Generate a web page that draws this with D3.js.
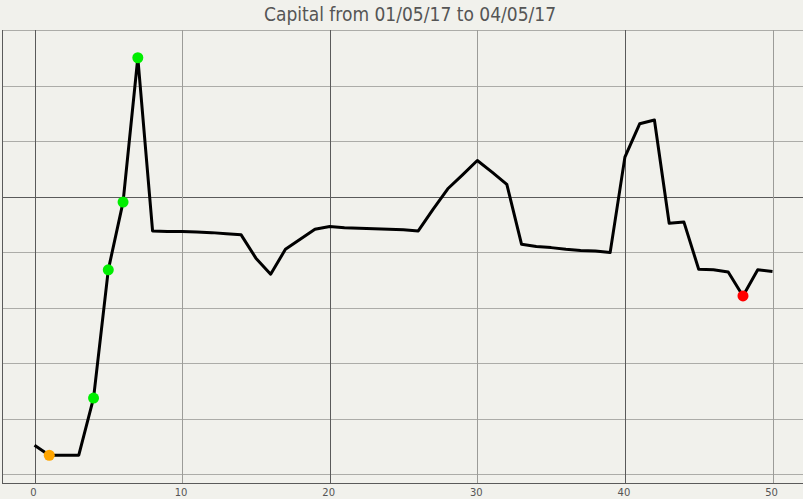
<!DOCTYPE html>
<html>
<head>
<meta charset="utf-8">
<script src="https://cdn.jsdelivr.net/npm/d3@7"></script>
<style>
  body { margin: 0; background: #f1f1ec; }
  svg { display: block; }
</style>
</head>
<body>
<div id="chart"></div>
<script>
// capital per step, in grid units (0 = baseline)
const steps = d3.range(0, 51);
const capital = [-4.48, -4.66, -4.66, -4.66, -3.63, -1.32, -0.10, 2.50, -0.62, -0.63,
  -0.63, -0.64, -0.65, -0.67, -0.69, -1.11, -1.40, -0.95, -0.77, -0.59,
  -0.54, -0.56, -0.57, -0.58, -0.59, -0.60, -0.62, -0.23, 0.14, 0.39,
  0.65, 0.44, 0.22, -0.86, -0.90, -0.92, -0.95, -0.97, -0.98, -1.01,
  0.71, 1.31, 1.38, -0.48, -0.46, -1.31, -1.32, -1.36, -1.79, -1.32,
  -1.35];
// highlighted points: [step, colour]
const markers = [[1, "#ffa500"], [4, "#00ee00"], [5, "#00ee00"], [6, "#00ee00"], [7, "#00ee00"], [48, "#ff0000"]];
const xTicks = [0, 10, 20, 30, 40, 50];
const yGrid = [-5, -4, -3, -2, -1, 0, 1, 2, 3];

const width = 803, height = 499;
const plot = { left: 2, right: 803, top: 30, bottom: 483 };

const x = d3.scaleLinear().domain([0, 50]).range([34.5, 772.5]);
const y = d3.scaleLinear().domain([-5.16, 3]).range([plot.bottom, plot.top]);

const svg = d3.select("#chart").append("svg")
    .attr("width", width)
    .attr("height", height);

svg.append("rect")
    .attr("width", width)
    .attr("height", height)
    .attr("fill", "#f1f1ec");

// horizontal grid
svg.append("g").selectAll("line")
    .data(yGrid)
    .join("line")
    .attr("x1", plot.left).attr("x2", plot.right)
    .attr("y1", d => Math.round(y(d)) + 0.5)
    .attr("y2", d => Math.round(y(d)) + 0.5)
    .attr("stroke", d => d === 0 ? "#5a5a5a" : "#acaca8")
    .attr("stroke-width", 1);

// vertical grid
svg.append("g").selectAll("line")
    .data(xTicks)
    .join("line")
    .attr("x1", d => Math.round(x(d)) + 0.5)
    .attr("x2", d => Math.round(x(d)) + 0.5)
    .attr("y1", plot.top).attr("y2", plot.bottom)
    .attr("stroke", d => d % 20 === 0 ? "#5a5a5a" : "#9c9c98")
    .attr("stroke-width", 1);

// frame: left and bottom
svg.append("line")
    .attr("x1", plot.left + 0.5).attr("x2", plot.left + 0.5)
    .attr("y1", plot.top).attr("y2", plot.bottom)
    .attr("stroke", "#5a5a5a");

svg.append("line")
    .attr("x1", plot.left).attr("x2", plot.right)
    .attr("y1", plot.bottom + 0.5).attr("y2", plot.bottom + 0.5)
    .attr("stroke", "#5a5a5a");

// x tick labels
svg.append("g").selectAll("text")
    .data(xTicks)
    .join("text")
    .attr("x", d => x(d) - 1)
    .attr("y", 496)
    .attr("text-anchor", "middle")
    .attr("font-family", "DejaVu Sans, sans-serif")
    .attr("font-size", "10px")
    .attr("fill", "#555")
    .text(d => d);

// line
const line = d3.line()
    .x((d, i) => x(steps[i]))
    .y(d => y(d));

svg.append("path")
    .datum(capital)
    .attr("d", line)
    .attr("fill", "none")
    .attr("stroke", "#000")
    .attr("stroke-width", 3)
    .attr("stroke-linejoin", "round");

// markers
svg.append("g").selectAll("circle")
    .data(markers)
    .join("circle")
    .attr("cx", d => x(d[0]))
    .attr("cy", d => y(capital[d[0]]))
    .attr("r", 5.5)
    .attr("fill", d => d[1]);

// title
svg.append("text")
    .attr("x", 410)
    .attr("y", 21)
    .attr("text-anchor", "middle")
    .attr("font-family", "DejaVu Sans Condensed, sans-serif")
    .attr("font-size", "19px")
    .attr("fill", "#555")
    .text("Capital from 01/05/17 to 04/05/17");
</script>
</body>
</html>
